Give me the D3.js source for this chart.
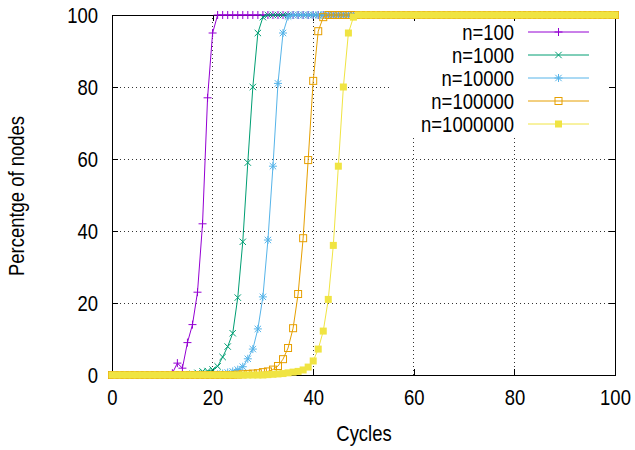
<!DOCTYPE html>
<html>
<head>
<meta charset="utf-8">
<script src="https://cdn.jsdelivr.net/npm/d3@7"></script>
<style>
  body { margin: 0; background: #fff; }
  text { font-family: "Liberation Sans", Arial, sans-serif; fill: #000; }
</style>
</head>
<body>
<svg id="chart" width="635" height="450"></svg>
<script>
// ---- data ----
const cycles = d3.range(0, 101);
const seriesNames = ["n=100", "n=1000", "n=10000", "n=100000", "n=1000000"];
const n100 = [
  0,0,0,0,0,0,0,0,0,0,0,0,0.5,3.3,1.9,9,14,23,42,77,
  95,100,100,100,100,100,100,100,100,100,100,100,100,100,100,100,100,100,100,100,
  100,100,100,100,100,100,100,100,100,100,100,100,100,100,100,100,100,100,100,100,
  100,100,100,100,100,100,100,100,100,100,100,100,100,100,100,100,100,100,100,100,
  100,100,100,100,100,100,100,100,100,100,100,100,100,100,100,100,100,100,100,100,100];
const n1000 = [
  0,0,0,0,0,0,0,0,0,0,0,0,0,0,0,0,0.3,0.6,1,1.1,
  1.5,2.4,5,7.9,11.6,21.5,37,59,80,95,99.4,100,100,100,100,100,100,100,100,100,
  100,100,100,100,100,100,100,100,100,100,100,100,100,100,100,100,100,100,100,100,
  100,100,100,100,100,100,100,100,100,100,100,100,100,100,100,100,100,100,100,100,
  100,100,100,100,100,100,100,100,100,100,100,100,100,100,100,100,100,100,100,100,100];
const n10000 = [
  0,0,0,0,0,0,0,0,0,0,0,0,0,0,0,0,0,0,0,0,
  0,0.2,0.4,0.7,1,1.5,2.3,4.5,7.2,12.8,21.7,37.5,58,81,95,99.6,100,100,100,100,
  100,100,100,100,100,100,100,100,100,100,100,100,100,100,100,100,100,100,100,100,
  100,100,100,100,100,100,100,100,100,100,100,100,100,100,100,100,100,100,100,100,
  100,100,100,100,100,100,100,100,100,100,100,100,100,100,100,100,100,100,100,100,100];
const n100000 = [
  0,0,0,0,0,0,0,0,0,0,0,0,0,0,0,0,0,0,0,0,
  0,0,0,0,0,0.1,0.2,0.3,0.4,0.5,0.8,1,1.5,2.5,4.4,7.5,13,22.5,38,59.7,
  81.7,95.5,99.4,100,100,100,100,100,100,100,100,100,100,100,100,100,100,100,100,100,
  100,100,100,100,100,100,100,100,100,100,100,100,100,100,100,100,100,100,100,100,
  100,100,100,100,100,100,100,100,100,100,100,100,100,100,100,100,100,100,100,100,100];
const n1000000 = [
  0,0,0,0,0,0,0,0,0,0,0,0,0,0,0,0,0,0,0,0,
  0,0,0,0,0,0,0,0,0,0,0,0.1,0.2,0.3,0.4,0.6,0.8,1,1.4,2.2,
  3.9,7.2,12.2,21,36,58,80,95,99.4,100,100,100,100,100,100,100,100,100,100,100,
  100,100,100,100,100,100,100,100,100,100,100,100,100,100,100,100,100,100,100,100,
  100,100,100,100,100,100,100,100,100,100,100,100,100,100,100,100,100,100,100,100,100];
const seriesValues = [n100, n1000, n10000, n100000, n1000000];
const seriesColors = ["#9400d3", "#009e73", "#56b4e9", "#e69f00", "#f0e442"];
const markerTypes = ["plus", "cross", "star", "openSquare", "filledSquare"];
const xTicks = [0, 20, 40, 60, 80, 100];
const yTicks = [0, 20, 40, 60, 80, 100];
const xLabel = "Cycles";
const yLabel = "Percentge of nodes";

// ---- layout ----
const svg = d3.select("#chart");
const pLeft = 112, pRight = 615, pTop = 15, pBottom = 375;
const x = d3.scaleLinear().domain([0, 100]).range([pLeft, pRight]);
const y = d3.scaleLinear().domain([0, 100]).range([pBottom, pTop]);
const FS = 22;
const SX = 0.84; // horizontal condensing of the text (narrow face)

// grid
const grid = svg.append("g");
xTicks.filter(t => t > 0 && t < 100).forEach(t => {
  grid.append("line").attr("x1", x(t)).attr("x2", x(t)).attr("y1", pBottom).attr("y2", pTop)
    .attr("stroke", "#000").attr("stroke-width", 1).attr("stroke-dasharray", "1,3")
    .attr("shape-rendering", "crispEdges").attr("stroke-opacity", 0.8);
});
yTicks.filter(t => t > 0 && t < 100).forEach(t => {
  grid.append("line").attr("x1", pLeft).attr("x2", pRight).attr("y1", y(t)).attr("y2", y(t))
    .attr("stroke", "#000").attr("stroke-width", 1).attr("stroke-dasharray", "1,3")
    .attr("shape-rendering", "crispEdges").attr("stroke-opacity", 0.8);
});

// legend background (opaque) — hides grid
const legX = 390, legY = pTop, legW = pRight - 390, legH = 120;
svg.append("rect").attr("x", legX).attr("y", legY).attr("width", legW).attr("height", legH).attr("fill", "#fff");

// axes (ticks inward, mirrored)
const axB = svg.append("g").attr("transform", `translate(0,${pBottom})`)
  .call(d3.axisBottom(x).tickValues(xTicks).tickSizeInner(-6).tickSizeOuter(0).tickPadding(14));
const axT = svg.append("g").attr("transform", `translate(0,${pTop})`)
  .call(d3.axisTop(x).tickValues(xTicks).tickSizeInner(-6).tickSizeOuter(0).tickFormat(""));
const axL = svg.append("g").attr("transform", `translate(${pLeft},0)`)
  .call(d3.axisLeft(y).tickValues(yTicks).tickSizeInner(-6).tickSizeOuter(0).tickPadding(14));
const axR = svg.append("g").attr("transform", `translate(${pRight},0)`)
  .call(d3.axisRight(y).tickValues(yTicks).tickSizeInner(-6).tickSizeOuter(0).tickFormat(""));
[axB, axT, axL, axR].forEach(a => {
  a.select(".domain").remove();
  a.selectAll("line").attr("stroke", "#000").attr("shape-rendering", "crispEdges");
  a.selectAll("text").style("font-size", FS + "px").attr("fill", "#000");
});
axB.selectAll("text").attr("dy", "0.71em");
// condense tick labels horizontally around their anchor
[axB, axL].forEach(a => {
  a.selectAll(".tick text").each(function() {
    const t = d3.select(this);
    const tx = +t.attr("x") || 0, ty = +t.attr("y") || 0;
    t.attr("x", 0).attr("y", 0).attr("transform", `translate(${tx},${ty}) scale(${SX},1)`);
  });
});

// border
svg.append("rect").attr("x", pLeft).attr("y", pTop).attr("width", pRight - pLeft).attr("height", pBottom - pTop)
  .attr("fill", "none").attr("stroke", "#000").attr("stroke-width", 1).attr("shape-rendering", "crispEdges");

// marker drawing
function drawMarker(g, type, cx, cy, color) {
  const s = 4;
  if (type === "plus") {
    g.append("path").attr("d", `M${cx - s},${cy}H${cx + s}M${cx},${cy - s}V${cy + s}`)
      .attr("stroke", color).attr("stroke-width", 1).attr("fill", "none");
  } else if (type === "cross") {
    const c = 3.2;
    g.append("path").attr("d", `M${cx - c},${cy - c}L${cx + c},${cy + c}M${cx - c},${cy + c}L${cx + c},${cy - c}`)
      .attr("stroke", color).attr("stroke-width", 1).attr("fill", "none");
  } else if (type === "star") {
    const c = 3.2;
    g.append("path").attr("d", `M${cx - s},${cy}H${cx + s}M${cx},${cy - s}V${cy + s}M${cx - c},${cy - c}L${cx + c},${cy + c}M${cx - c},${cy + c}L${cx + c},${cy - c}`)
      .attr("stroke", color).attr("stroke-width", 1).attr("fill", "none");
  } else if (type === "openSquare") {
    g.append("rect").attr("x", cx - 3.5).attr("y", cy - 3.5).attr("width", 7).attr("height", 7)
      .attr("stroke", color).attr("stroke-width", 1).attr("fill", "none");
  } else if (type === "filledSquare") {
    g.append("rect").attr("x", cx - 3.5).attr("y", cy - 3.5).attr("width", 7).attr("height", 7)
      .attr("fill", color);
  }
}

// series
const line = d3.line().x((d, i) => x(cycles[i])).y(d => y(d));
seriesValues.forEach((vals, k) => {
  const g = svg.append("g");
  g.append("path").datum(vals).attr("d", line).attr("fill", "none")
    .attr("stroke", seriesColors[k]).attr("stroke-width", 1);
  vals.forEach((v, i) => drawMarker(g, markerTypes[k], x(cycles[i]), y(v), seriesColors[k]));
});

// legend
const legTextX = 514, legLineX1 = 528, legLineX2 = 589, legRow0 = 32, legStep = 23;
seriesNames.forEach((name, k) => {
  const ry = legRow0 + k * legStep;
  svg.append("text").attr("transform", `translate(${legTextX},${ry}) scale(${SX},1)`).attr("dy", "0.36em")
    .attr("text-anchor", "end").style("font-size", FS + "px").text(name);
  svg.append("line").attr("x1", legLineX1).attr("x2", legLineX2).attr("y1", ry).attr("y2", ry)
    .attr("stroke", seriesColors[k]).attr("stroke-width", 1);
  drawMarker(svg.append("g"), markerTypes[k], (legLineX1 + legLineX2) / 2, ry, seriesColors[k]);
});

// axis labels
svg.append("text").attr("transform", `translate(${(pLeft + pRight) / 2 + 0.5},441) scale(${SX},1)`)
  .attr("text-anchor", "middle").style("font-size", FS + "px").text(xLabel);
svg.append("text").attr("transform", `translate(24,196) rotate(-90) scale(${SX},1)`)
  .attr("text-anchor", "middle").style("font-size", FS + "px").text(yLabel);
</script>
</body>
</html>
